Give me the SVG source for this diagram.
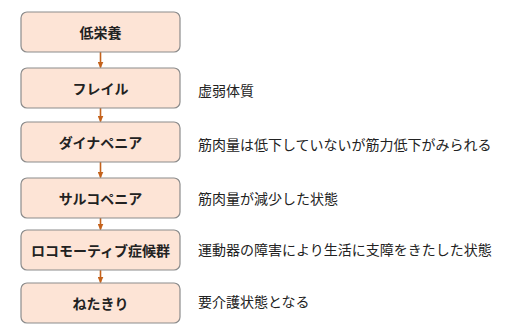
<svg xmlns="http://www.w3.org/2000/svg" width="518" height="332" viewBox="0 0 518 332">
<defs>
<marker id="ah" markerWidth="7" markerHeight="6" refX="6" refY="3" orient="auto" markerUnits="userSpaceOnUse">
<path d="M0,0 L7,3 L0,6 Z" fill="#c4621c"/>
</marker>
<style>
.box{fill:#fde4d6;stroke:#8c8c8c;stroke-width:1.2}
.bt{font-family:"Noto Sans CJK JP","Noto Sans",sans-serif;font-size:14px;font-weight:bold;fill:#222;text-anchor:middle;dominant-baseline:central}
.rt{font-family:"Noto Sans CJK JP","Noto Sans",sans-serif;font-size:14px;fill:#222;dominant-baseline:central}
.con{stroke:#c4621c;stroke-width:1.6;fill:none;marker-end:url(#ah)}
</style>
</defs>
<rect width="518" height="332" fill="#ffffff"/>
<g id="connectors">
<line class="con" x1="100.5" y1="52" x2="100.5" y2="67.5"/>
<line class="con" x1="100.5" y1="108" x2="100.5" y2="121.5"/>
<line class="con" x1="100.5" y1="162" x2="100.5" y2="177.5"/>
<line class="con" x1="100.5" y1="218" x2="100.5" y2="229.5"/>
<line class="con" x1="100.5" y1="270" x2="100.5" y2="282.5"/>
</g>
<g id="n1"><rect class="box" x="21" y="12" width="159" height="40" rx="6"/><text class="bt" x="100.5" y="32">低栄養</text></g>
<g id="n2"><rect class="box" x="21" y="68" width="159" height="40" rx="6"/><text class="bt" x="100.5" y="88">フレイル</text><text class="rt" x="198" y="89.5">虚弱体質</text></g>
<g id="n3"><rect class="box" x="21" y="122" width="159" height="40" rx="6"/><text class="bt" x="100.5" y="142">ダイナペニア</text><text class="rt" x="198" y="144">筋肉量は低下していないが筋力低下がみられる</text></g>
<g id="n4"><rect class="box" x="21" y="178" width="159" height="40" rx="6"/><text class="bt" x="100.5" y="198">サルコペニア</text><text class="rt" x="198" y="198">筋肉量が減少した状態</text></g>
<g id="n5"><rect class="box" x="21" y="230" width="159" height="40" rx="6"/><text class="bt" x="100.5" y="250">ロコモーティブ症候群</text><text class="rt" x="198" y="249">運動器の障害により生活に支障をきたした状態</text></g>
<g id="n6"><rect class="box" x="21" y="283" width="159" height="40" rx="6"/><text class="bt" x="100.5" y="303">ねたきり</text><text class="rt" x="198" y="301">要介護状態となる</text></g>
</svg>
